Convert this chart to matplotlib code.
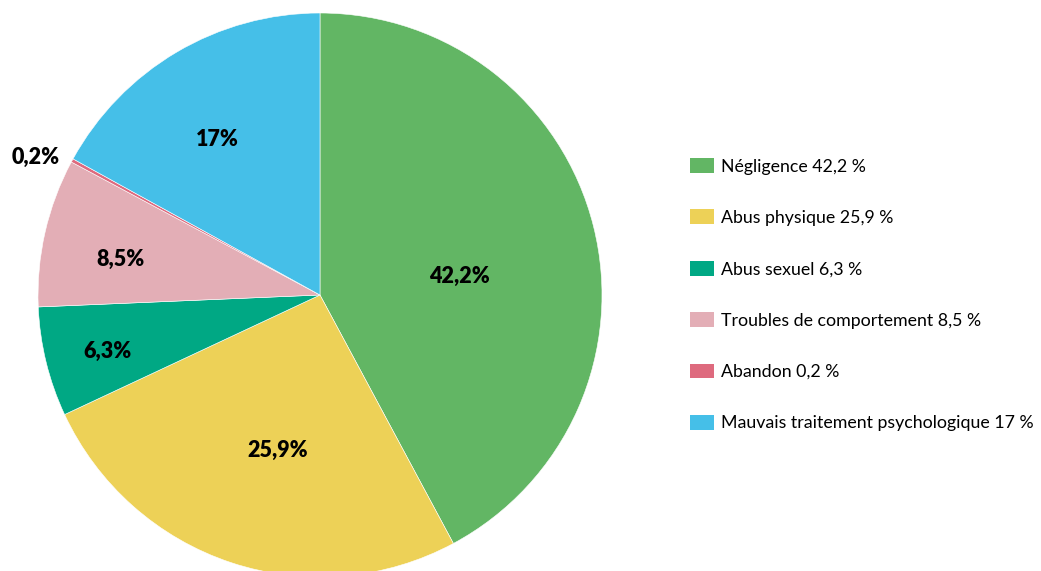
import numpy as np
import matplotlib.pyplot as plt
from matplotlib.patches import Patch

# data
categories = ['Négligence', 'Abus physique', 'Abus sexuel',
              'Troubles de comportement', 'Abandon',
              'Mauvais traitement psychologique']
values = [42.2, 25.9, 6.3, 8.5, 0.2, 17]
slice_labels = ['42,2%', '25,9%', '6,3%', '8,5%', '0,2%', '17%']
legend_labels = ['Négligence 42,2 %', 'Abus physique 25,9 %', 'Abus sexuel 6,3 %',
                 'Troubles de comportement 8,5 %', 'Abandon 0,2 %',
                 'Mauvais traitement psychologique 17 %']
colors = ['#62B664', '#EDD157', '#00A884', '#E3AEB6', '#DE6A7E', '#45BFE8']
# label placement: radial distance and small angular nudge (deg)
label_dist = [0.50, 0.57, 0.78, 0.72, 1.12, 0.66]
label_shift = [-6.7, 3.1, 1.0, 2.8, 2.6, 2.9]

plt.rcParams['font.family'] = ['Lato', 'DejaVu Sans']

fig = plt.figure(figsize=(10.41, 5.71), dpi=100)
W, H = 1041, 571
cx, cy, r = 320, 571 - 295, 282
ax = fig.add_axes([(cx - r) / W, (cy - r) / H, 2 * r / W, 2 * r / H])

wedges, _ = ax.pie(values, colors=colors, startangle=90, counterclock=False,
                   radius=1, wedgeprops=dict(edgecolor='white', linewidth=0.4))
ax.set_xlim(-1, 1)
ax.set_ylim(-1, 1)
ax.set_aspect('equal')
ax.axis('off')

# percentage labels near the middle of each wedge
for w, lab, d, s in zip(wedges, slice_labels, label_dist, label_shift):
    ang = np.deg2rad((w.theta1 + w.theta2) / 2 + s)
    ax.text(d * np.cos(ang), d * np.sin(ang), lab, ha='center', va='center',
            fontsize=15.5, fontweight='heavy', color='black')

handles = [Patch(facecolor=c, edgecolor='none') for c in colors]
fig.legend(handles, legend_labels, loc='upper left',
           bbox_to_anchor=(683 / W, 1 - 151 / H), frameon=False,
           fontsize=12.8, handlelength=1.35, handleheight=0.9,
           handletextpad=0.4, labelspacing=1.96, borderaxespad=0)

fig.savefig('out.png', dpi=100)
